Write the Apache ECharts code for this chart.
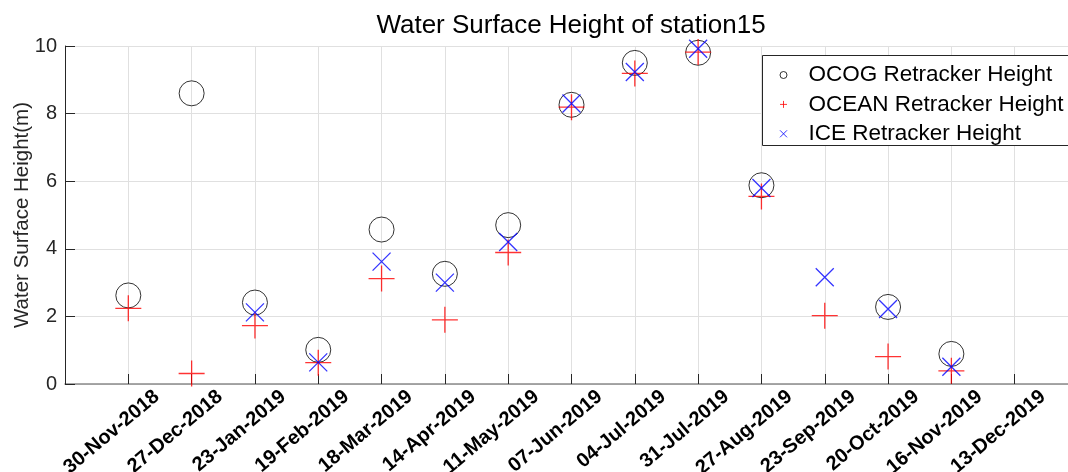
<!DOCTYPE html>
<html><head><meta charset="utf-8">
<script src="https://cdn.jsdelivr.net/npm/echarts@6/dist/echarts.min.js"></script>
<style>html,body{margin:0;padding:0;background:#fff}#c{width:1068px;height:472px}</style>
</head><body><div id="c"></div>
<script>
const dates = ['30-Nov-2018','27-Dec-2018','23-Jan-2019','19-Feb-2019','18-Mar-2019','14-Apr-2019','11-May-2019','07-Jun-2019','04-Jul-2019','31-Jul-2019','27-Aug-2019','23-Sep-2019','20-Oct-2019','16-Nov-2019','13-Dec-2019'];
const ocog  = [2.62, 8.60, 2.41, 1.01, 4.57, 3.26, 4.70, 8.26, 9.50, 9.80, 5.88, null, 2.28, 0.89, null];
const ocean = [2.24, 0.31, 1.73, 0.63, 3.12, 1.90, 3.89, 8.19, 9.19, 9.82, 5.55, 2.02, 0.81, 0.39, null];
const ice   = [null, null, 2.12, 0.64, 3.62, 3.00, 4.20, 8.30, 9.23, 9.92, 5.80, 3.16, 2.22, 0.51, null];
const yTicks = [0, 2, 4, 6, 8, 10];
const seriesNames = ['OCOG Retracker Height', 'OCEAN Retracker Height', 'ICE Retracker Height'];

const pairs = arr => arr.map((v, i) => [i, v]).filter(p => p[1] !== null);
const FONT = 'Liberation Sans, Arial, sans-serif';
const AX = '#262626';

const chart = echarts.init(document.getElementById('c'), null, {renderer: 'canvas'});
chart.setOption({
  animation: false,
  backgroundColor: '#fff',
  title: {
    text: 'Water Surface Height of station15',
    left: 571, top: 13, textAlign: 'center', padding: 0,
    textStyle: {fontFamily: FONT, fontSize: 26, fontWeight: 'normal', color: '#000'}
  },
  graphic: [{
    type: 'rect', z: 3, silent: true,
    shape: {x: 762.5, y: 55.5, width: 340, height: 90},
    style: {fill: '#fff', stroke: AX, lineWidth: 1}
  }],
  legend: {
    orient: 'vertical', left: 762, top: 55, z: 4,
    padding: [8.5, 16, 4.7, 17.5],
    itemWidth: 40, itemHeight: 7, itemGap: 6.4,
    borderWidth: 0, backgroundColor: 'transparent',
    textStyle: {fontFamily: FONT, fontSize: 22.5, color: '#000', lineHeight: 22},
    itemStyle: {borderWidth: 1},
    data: seriesNames
  },
  grid: {left: 65, width: 1013, top: 46, bottom: 88, containLabel: false, outerBoundsMode: 'none'},
  xAxis: {
    type: 'value', min: -1, max: 15, interval: 1,
    axisLine: {show: true, onZero: false, lineStyle: {color: '#8a8a8a', width: 1.5}},
    axisTick: {show: true, inside: true, length: 10, lineStyle: {color: AX}},
    splitLine: {show: true, lineStyle: {color: '#e0e0e0', width: 1}},
    axisLabel: {
      rotate: 40, fontFamily: FONT, fontSize: 20, fontWeight: 'bold', color: '#000',
      margin: 34, align: 'right', verticalAlign: 'middle', padding: [0, -37, 0, 0],
      showMinLabel: true, showMaxLabel: true,
      formatter: v => (Number.isInteger(v) && v >= 0 && v < dates.length) ? dates[v] : ''
    }
  },
  yAxis: {
    type: 'value', min: yTicks[0], max: yTicks[yTicks.length - 1], interval: 2,
    name: 'Water Surface Height(m)', nameLocation: 'middle', nameGap: 32, nameMoveOverlap: false,
    nameTextStyle: {fontFamily: FONT, fontSize: 20.5, color: AX},
    axisLine: {show: true, onZero: false, lineStyle: {color: AX, width: 1}},
    axisTick: {show: true, inside: true, length: 10, lineStyle: {color: AX}},
    splitLine: {show: true, lineStyle: {color: '#e0e0e0', width: 1}},
    axisLabel: {fontFamily: FONT, fontSize: 20, color: AX, margin: 8}
  },
  series: [
    {
      name: seriesNames[0], type: 'scatter', data: pairs(ocog),
      symbol: 'circle', symbolSize: 25, symbolKeepAspect: true,
      itemStyle: {color: 'transparent', borderColor: '#000', borderWidth: 1}
    },
    {
      name: seriesNames[1], type: 'scatter', data: pairs(ocean),
      symbol: 'path://M0,10L20,10M10,0L10,20', symbolSize: 26, symbolKeepAspect: true,
      itemStyle: {color: 'transparent', borderColor: '#ff0000', borderWidth: 1.3}
    },
    {
      name: seriesNames[2], type: 'scatter', data: pairs(ice),
      symbol: 'path://M0,0L20,20M20,0L0,20', symbolSize: 18, symbolKeepAspect: true,
      itemStyle: {color: 'transparent', borderColor: '#0000ff', borderWidth: 1.3}
    }
  ]
});
</script></body></html>
